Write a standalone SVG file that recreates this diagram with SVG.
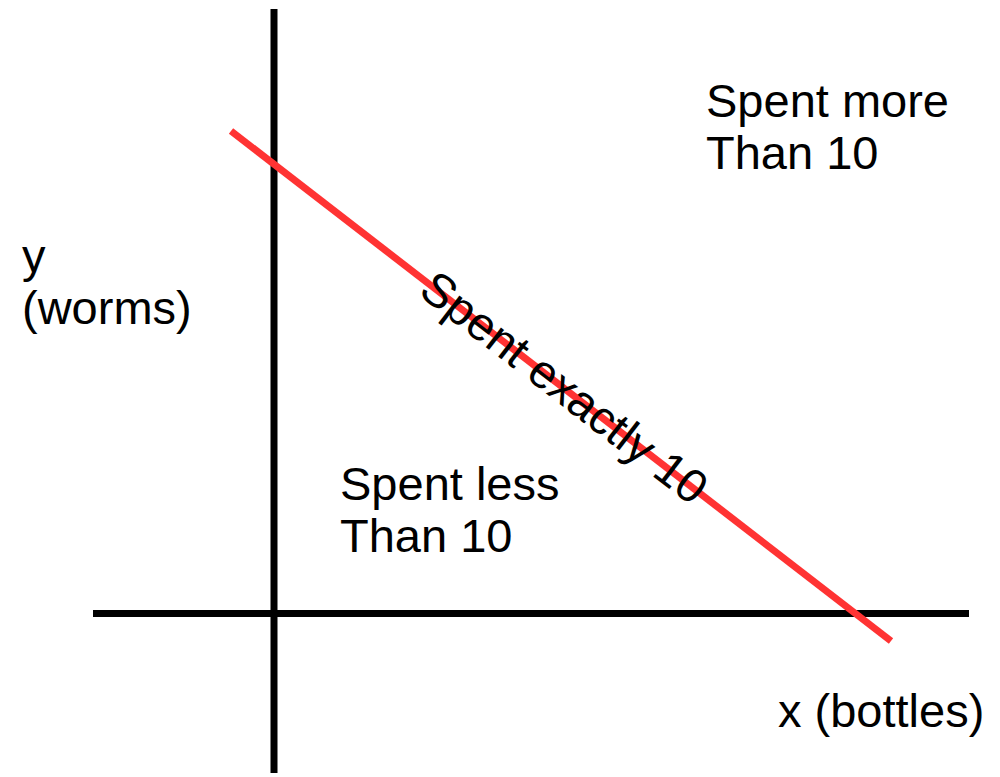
<svg xmlns="http://www.w3.org/2000/svg" width="1000" height="777" viewBox="0 0 1000 777">
<style>
.t{font-family:"Liberation Sans",Arial,sans-serif;font-size:47px;fill:#000}
.axis{stroke:#000;stroke-width:7;fill:none}
.budget{stroke:#ff3333;stroke-width:7;fill:none}
</style>
<rect width="1000" height="777" fill="#fff"/>
<g id="connectors">
<line id="y-axis" class="axis" x1="274" y1="9" x2="274" y2="773"/>
<line id="x-axis" class="axis" x1="93" y1="613.5" x2="969" y2="613.5"/>
<line id="budget-line" class="budget" x1="231" y1="131" x2="891" y2="641"/>
</g>
<g id="label-y"><text class="t" x="22" y="272">y</text><text class="t" x="22" y="324">(worms)</text></g>
<g id="label-x"><text class="t" x="778" y="727">x (bottles)</text></g>
<g id="label-more"><text class="t" x="706" y="117">Spent more</text><text class="t" x="706" y="169">Than 10</text></g>
<g id="label-less"><text class="t" x="340" y="500">Spent less</text><text class="t" x="340" y="552">Than 10</text></g>
<g id="label-exact"><text class="t" transform="translate(417,294) rotate(37.7)">Spent exactly 10</text></g>
</svg>
